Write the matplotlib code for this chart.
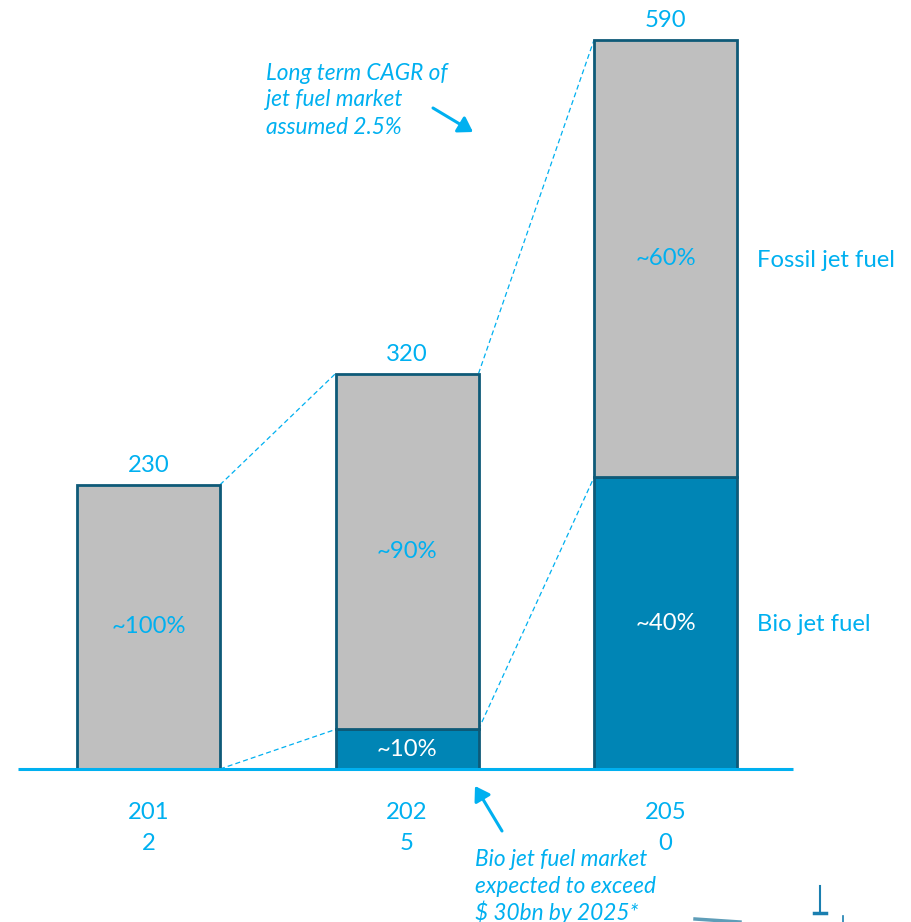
import matplotlib
matplotlib.use("Agg")
import matplotlib.pyplot as plt
from matplotlib.patches import FancyArrowPatch

plt.rcParams['font.family'] = ['Lato', 'DejaVu Sans']

# ---- data ----
years = ["201\n2", "202\n5", "205\n0"]
totals = [230, 320, 590]
bio_values = [0, 32, 236]
fossil_values = [230, 288, 354]
fossil_labels = ["~100%", "~90%", "~60%"]
bio_labels = ["", "~10%", "~40%"]
series_names = ["Fossil jet fuel", "Bio jet fuel"]
note_top = ["Long term CAGR of", "jet fuel market", "assumed 2.5%"]
note_bottom = ["Bio jet fuel market", "expected to exceed", "$ 30bn by 2025*"]

TXT = "#00B0F0"
BIO = "#0085B5"
GRAY = "#BFBFBF"
EDGE = "#0E5A78"

W, H = 912, 922
fig = plt.figure(figsize=(W / 100, H / 100), dpi=100)
ax = fig.add_axes([0, 0, 1, 1])
px_per_x = 258.5
px_per_y = 729 / 590
ax.set_xlim(-148.5 / px_per_x, (W - 148.5) / px_per_x)
ax.set_ylim(-(H - 769) / px_per_y, 769 / px_per_y)
ax.axis("off")

def P(xp, yp):
    return ((xp - 148.5) / px_per_x, (769 - yp) / px_per_y)

xs = list(range(len(years)))
bw = 143 / px_per_x

# bars
ax.bar(xs, bio_values, width=bw, color=BIO, edgecolor=EDGE, linewidth=2, zorder=3)
ax.bar(xs, fossil_values, bottom=bio_values, width=bw, color=GRAY, edgecolor=EDGE,
       linewidth=2, zorder=3)

# baseline
ax.plot([P(18, 0)[0], P(793, 0)[0]], [0, 0], color=TXT, lw=2.2, zorder=4,
        solid_capstyle="butt")

# dashed connectors
for i in range(len(xs) - 1):
    x0 = xs[i] + bw / 2
    x1 = xs[i + 1] - bw / 2
    ax.plot([x0, x1], [totals[i], totals[i + 1]], ls=(0, (4, 2.5)), color=TXT, lw=0.9, zorder=2)
    ax.plot([x0, x1], [bio_values[i], bio_values[i + 1]], ls=(0, (4, 2.5)), color=TXT, lw=0.9, zorder=2)

fs = 17.2
# totals
for x, t in zip(xs, totals):
    ax.text(x, t + 7, str(t), ha="center", va="bottom", color=TXT, fontsize=fs)

# inner labels
for x, b, f, fl, bl in zip(xs, bio_values, fossil_values, fossil_labels, bio_labels):
    ax.text(x, b + f / 2, fl, ha="center", va="center", color=TXT, fontsize=fs, zorder=5)
    if bl:
        ax.text(x, b / 2, bl, ha="center", va="center", color="white", fontsize=fs, zorder=5)

# x labels (two lines each)
for x, lab in zip(xs, years):
    l1, l2 = lab.split("\n")
    ax.text(x, P(0, 812)[1], l1, ha="center", va="center", color=TXT, fontsize=fs)
    ax.text(x, P(0, 843)[1], l2, ha="center", va="center", color=TXT, fontsize=fs)

# series labels
lx = P(757, 0)[0]
ax.text(lx, P(0, 260)[1], series_names[0], ha="left", va="center", color=TXT, fontsize=fs)
ax.text(lx, P(0, 624)[1], series_names[1], ha="left", va="center", color=TXT, fontsize=fs)

# annotations
for line, yp in zip(note_top, [74, 100, 127]):
    ax.text(*P(266, yp), line, ha="left", va="center", color=TXT, fontsize=16.3, style="italic")
for line, yp in zip(note_bottom, [859, 886, 912]):
    ax.text(*P(475, yp), line, ha="left", va="center", color=TXT, fontsize=16.3, style="italic")

ax.add_patch(FancyArrowPatch(P(433, 108), P(473, 132),
                             arrowstyle="-|>,head_length=5,head_width=3.2",
                             color=TXT, lw=2.2, mutation_scale=1.7, shrinkA=0, shrinkB=0))
ax.add_patch(FancyArrowPatch(P(502, 831), P(475, 786),
                             arrowstyle="-|>,head_length=5,head_width=3.2",
                             color=TXT, lw=2.2, mutation_scale=1.7, shrinkA=0, shrinkB=0))

# decorative fragment bottom-right
ax.plot(*zip(P(820, 886), P(820, 912)), color="#1A7FB0", lw=1.5)
ax.plot(*zip(P(814, 913), P(826, 913)), color="#1A7FB0", lw=2.5)
ax.plot(*zip(P(695, 919), P(740, 922)), color="#5E9DB8", lw=2.5)
ax.plot(*zip(P(843, 916), P(843, 922)), color="#1A7FB0", lw=1.2)

fig.savefig("out.png", dpi=100)
